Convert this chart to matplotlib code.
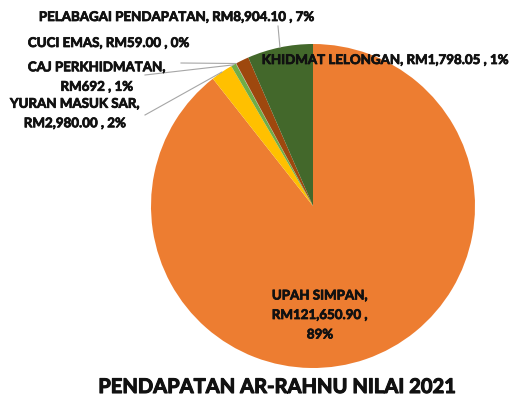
import numpy as np
import matplotlib
matplotlib.use("Agg")
import matplotlib.pyplot as plt
import matplotlib.patheffects as pe

categories = ["UPAH SIMPAN", "YURAN MASUK SAR", "CAJ PERKHIDMATAN", "CUCI EMAS",
              "KHIDMAT LELONGAN", "PELABAGAI PENDAPATAN"]
values = [121650.90, 2980.00, 692.00, 59.00, 1798.05, 8904.10]
value_labels = ["RM121,650.90", "RM2,980.00", "RM692", "RM59.00", "RM1,798.05", "RM8,904.10"]
pct_labels = ["89%", "2%", "1%", "0%", "1%", "7%"]
colors = ["#ED7D31", "#FFC000", "#70AD47", "#A5A5A5", "#9E480E", "#43682B"]
title = "PENDAPATAN AR-RAHNU NILAI 2021"

W, H = 513, 402
fig = plt.figure(figsize=(W / 100, H / 100), dpi=100)
FONT = "Lato"
TXT = "#111111"

cx, cy, R = 313, 207, 162
ax = fig.add_axes([(cx - R) / W, (H - cy - R) / H, 2 * R / W, 2 * R / H])
wedges, _ = ax.pie(values, colors=colors, startangle=90, counterclock=False,
                   radius=1.0, wedgeprops=dict(linewidth=0))
ax.set_xlim(-1, 1)
ax.set_ylim(-1, 1)
ax.set_aspect("equal")
ax.axis("off")

def fx(px):
    return px / W

def fy(py):
    return 1 - py / H

fs = 9.6
thick = [pe.withStroke(linewidth=0.55, foreground=TXT)]
tk = dict(fontsize=fs, fontweight="bold", family=FONT, color=TXT, path_effects=thick)
ls = 1.75

lab = {i: f"{categories[i]}, {value_labels[i]} , {pct_labels[i]}" for i in range(len(values))}
fig.text(fx(177), fy(18), lab[5], ha="center", va="center", **tk)
fig.text(fx(109), fy(44), lab[3], ha="center", va="center", **tk)
fig.text(fx(97), fy(78), f"{categories[2]},\n{value_labels[2]} , {pct_labels[2]}",
         ha="center", va="center", linespacing=ls, **tk)
fig.text(fx(75), fy(114.5), f"{categories[1]},\n{value_labels[1]} , {pct_labels[1]}",
         ha="center", va="center", linespacing=ls, **tk)
fig.text(fx(386), fy(61), lab[4], ha="center", va="center", **tk)
fig.text(fx(320), fy(316), f"{categories[0]},\n{value_labels[0]} ,\n{pct_labels[0]}",
         ha="center", va="center", linespacing=ls, **tk)

def mid_point(w, r=1.0):
    th = np.deg2rad((w.theta1 + w.theta2) / 2)
    return r * np.cos(th), r * np.sin(th)

leaders = {5: (278, 27), 3: (181, 64), 2: (145, 76), 1: (145, 116)}
for i, (sx, sy) in leaders.items():
    x, y = mid_point(wedges[i], 1.0)
    px = cx + x * R
    py = cy - y * R
    fig.add_artist(plt.Line2D([fx(sx), fx(px)], [fy(sy), fy(py)],
                              color="#A6A6A6", lw=0.8, transform=fig.transFigure))

fig.text(fx(277), fy(388), title, ha="center", va="center",
         fontsize=14.5, fontweight="bold", family=FONT, color=TXT,
         path_effects=[pe.withStroke(linewidth=0.8, foreground=TXT)])

fig.savefig("out.png", dpi=100)
